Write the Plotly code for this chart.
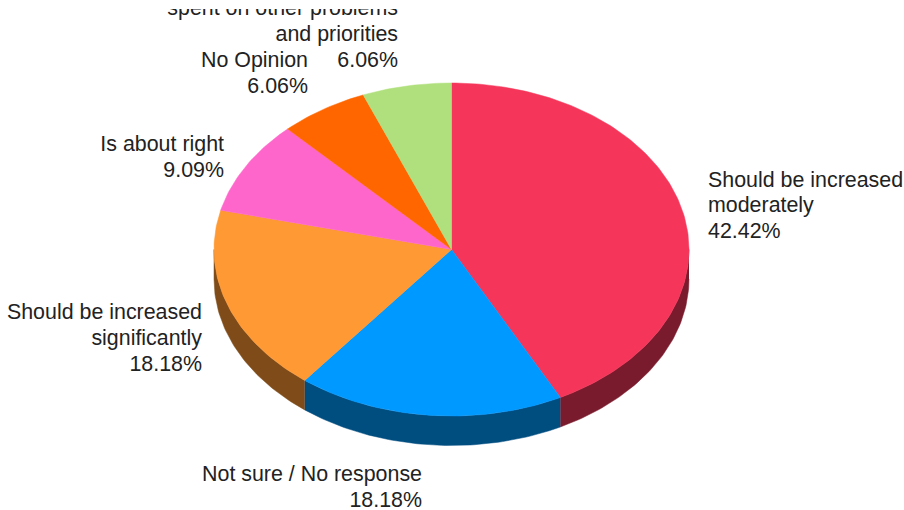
import math
import plotly.graph_objects as go

categories = ["Should be increased moderately", "Not sure / No response",
              "Should be increased significantly", "Is about right",
              "No Opinion", "Should be spent on other problems and priorities"]
values = [42.42, 18.18, 18.18, 9.09, 6.06, 6.06]
top_colors = ["#F5365A", "#0099FF", "#FF9933", "#FF66CC", "#FF6600", "#B0E07D"]
side_colors = ["#7A1B2D", "#004D80", "#7F4C19", "#7F3366", "#7F3300", "#587040"]

# label text, line by line: (text, x, y, side)
label_lines = [
    ("Should be increased", 708, 182, "right"),
    ("moderately", 708, 207, "right"),
    ("42.42%", 708, 233, "right"),
    ("Not sure / No response", 422, 476, "left"),
    ("18.18%", 422, 502, "left"),
    ("Should be increased", 202, 314, "left"),
    ("significantly", 202, 340, "left"),
    ("18.18%", 202, 366, "left"),
    ("Is about right", 224, 146, "left"),
    ("9.09%", 224, 172, "left"),
    ("No Opinion", 308, 62, "left"),
    ("6.06%", 308, 88, "left"),
    ("spent on other problems", 398, 10, "left"),
    ("and priorities", 398, 36, "left"),
    ("6.06%", 398, 62, "left"),
]

CX, CY, RX, RY, DEPTH = 451.5, 249.5, 237.5, 166.5, 29.5
W, H, CLIP_TOP = 904, 510, 9


def rim(a_from, a_to, dy=0.0):
    n = max(2, int(abs(a_to - a_from) / 1.0) + 2)
    xs, ys = [], []
    for i in range(n):
        a = math.radians(a_from + (a_to - a_from) * i / (n - 1))
        xs.append(CX + RX * math.sin(a))
        ys.append(CY - RY * math.cos(a) + dy)
    return xs, ys


fig = go.Figure()
total = sum(values)
angles = [0.0]
for v in values:
    angles.append(angles[-1] + v / total * 360)

# side wall: only the front half (90..270 degrees clockwise from top) is visible
for i, c in enumerate(side_colors):
    a0, a1 = max(angles[i], 90), min(angles[i + 1], 270)
    if a1 <= a0:
        continue
    x1, y1 = rim(a0, a1)
    x2, y2 = rim(a1, a0, DEPTH)
    fig.add_trace(go.Scatter(x=x1 + x2, y=y1 + y2, fill="toself", fillcolor=c,
                             mode="lines", line=dict(width=0.5, color=c),
                             hoverinfo="skip", showlegend=False))

# top face
for i, c in enumerate(top_colors):
    x1, y1 = rim(angles[i], angles[i + 1])
    fig.add_trace(go.Scatter(x=[CX] + x1 + [CX], y=[CY] + y1 + [CY], fill="toself",
                             fillcolor=c, mode="lines", line=dict(width=0.5, color=c),
                             name=categories[i], text=f"{values[i]:.2f}%",
                             hoverinfo="name+text", showlegend=False))

# labels
for side in ("left", "right"):
    rows = [r for r in label_lines if r[3] == side]
    fig.add_trace(go.Scatter(x=[r[1] for r in rows], y=[r[2] for r in rows],
                             text=[r[0] for r in rows], mode="text",
                             textposition=f"middle {side}", cliponaxis=True,
                             textfont=dict(family="Liberation Sans, Arial, sans-serif",
                                           size=21.4, color="#222222"),
                             hoverinfo="skip", showlegend=False))

fig.update_layout(
    width=W, height=H, margin=dict(l=0, r=0, t=CLIP_TOP, b=0),
    paper_bgcolor="white", plot_bgcolor="white", showlegend=False,
    xaxis=dict(visible=False, range=[0, W], fixedrange=True),
    yaxis=dict(visible=False, range=[H, CLIP_TOP], fixedrange=True),
)
fig.write_html("out.html", config={"displayModeBar": False},
               post_script="document.body.style.margin='0';document.body.style.overflow='hidden';")
